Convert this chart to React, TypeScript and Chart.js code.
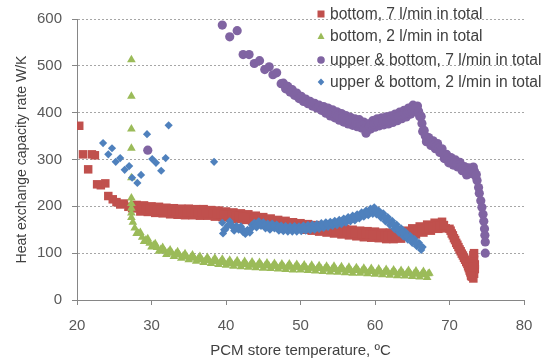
import React, { useEffect, useRef } from "react";
import { Chart, registerables } from "chart.js";

Chart.register(...registerables);

// ---- Data: bottom, 7 l/min in total ----
const RED_X = [20.3, 20.8, 21.5, 22.0, 22.4, 22.7, 23.2, 23.8, 24.2, 24.8, 25.3, 25.8, 26.3, 26.9, 27.4, 27.9,
  28.0, 28.5, 29.0, 29.5, 30.0, 30.5, 31.0, 31.5, 32.0, 32.5, 33.0, 33.5, 34.0, 34.5, 35.0, 35.5, 36.0, 36.5, 37.0, 37.5,
  38.0, 38.5, 39.0, 39.5, 40.0, 40.5, 41.0, 41.5, 42.0, 42.5, 43.0, 43.5, 44.0, 44.5, 45.0, 45.5, 46.0, 46.5, 47.0, 47.5,
  48.0, 48.5, 49.0, 49.5, 50.0, 50.5, 51.0, 51.5, 52.0, 52.5, 53.0, 53.5, 54.0, 54.5, 55.0, 55.5, 56.0, 56.5, 57.0, 57.5,
  58.0, 58.5, 59.0, 59.5, 60.0, 60.5, 61.0, 61.5, 62.0, 62.5, 63.0, 63.5, 64.0, 64.5, 65.0, 65.5, 66.0, 66.5, 67.0, 67.5,
  68.0, 68.5, 69.0, 69.5, 70.0, 70.3, 70.6, 70.9, 71.2, 71.5, 71.8, 72.1, 72.4, 72.6, 72.8, 73.0, 73.2, 73.3, 73.4, 73.4,
  73.3, 73.2, 72.9];
const RED_Y = [372, 311, 279, 311, 309, 247, 245, 249, 222, 215, 209, 204, 206, 199, 196, 198,
  203, 189, 202, 188, 200, 186, 199, 185, 197, 183, 196, 182, 195, 181, 195, 181, 194, 180, 194, 180,
  192, 178, 191, 177, 189, 175, 187, 173, 185, 171, 183, 169, 180, 166, 177, 163, 174, 160, 171, 157,
  169, 155, 166, 152, 164, 150, 162, 148, 160, 146, 158, 144, 156, 142, 154, 140, 152, 138, 150, 136,
  148, 134, 147, 133, 146, 132, 144, 130, 144, 130, 145, 131, 148, 135, 153, 140, 157, 144, 161, 148,
  165, 152, 167, 153, 152, 142, 132, 122, 113, 104, 95, 86, 77, 68, 59, 50, 46, 56, 66, 76,
  86, 96, 52];
const RED_FILL_X = [28.25, 28.75, 29.25, 29.75, 30.25, 30.75, 31.25, 31.75, 32.25, 32.75, 33.25, 33.75, 34.25, 34.75,
  35.25, 35.75, 36.25, 36.75, 37.25, 37.75, 38.25, 38.75, 39.25, 39.75, 40.25, 40.75, 41.25, 41.75, 42.25, 42.75,
  43.25, 43.75, 44.25, 44.75, 45.25, 45.75, 46.25, 46.75, 47.25, 47.75, 48.25, 48.75, 49.25, 49.75, 50.25, 50.75,
  51.25, 51.75, 52.25, 52.75, 53.25, 53.75, 54.25, 54.75, 55.25, 55.75, 56.25, 56.75, 57.25, 57.75, 58.25, 58.75,
  59.25, 59.75, 60.25, 60.75, 61.25, 61.75, 62.25, 62.75, 63.25, 63.75, 64.25, 64.75, 65.25, 65.75, 66.25, 66.75,
  67.25, 67.75, 68.25, 68.75, 69.25, 70.15, 70.45, 70.75, 71.05, 71.35, 71.65, 71.95, 72.25, 72.5, 72.7, 72.9, 73.1, 73.3];
const RED_FILL_Y = [196, 195, 195, 194, 193, 192, 192, 191, 190, 190, 189, 189, 188, 188,
  188, 187, 187, 187, 187, 186, 185, 184, 184, 183, 182, 181, 180, 179, 178, 177,
  176, 174, 173, 172, 170, 169, 167, 166, 164, 163, 162, 161, 159, 158, 157, 156,
  155, 154, 153, 152, 151, 150, 149, 148, 147, 146, 145, 144, 143, 142, 141, 141,
  140, 140, 139, 138, 137, 137, 137, 137, 138, 139, 141, 144, 146, 148, 150, 152,
  154, 156, 158, 159, 160, 148, 138, 128, 118, 108, 99, 90, 81, 72, 63, 55, 70, 100];

// ---- Data: bottom, 2 l/min in total ----
const GREEN_X = [27.3, 27.3, 27.3, 27.3, 27.3, 27.3, 27.3, 27.3, 27.3, 27.3,
  27.5, 28.0, 28.5, 29.0, 29.5, 30.0, 30.5, 31.0, 31.5, 32.0, 32.5, 33.0, 33.5, 34.0, 34.5, 35.0, 35.5, 36.0, 36.5, 37.0,
  37.5, 38.0, 38.5, 39.0, 39.5, 40.0, 40.5, 41.0, 41.5, 42.0, 42.5, 43.0, 43.5, 44.0, 44.5, 45.0, 45.5, 46.0, 46.5, 47.0,
  47.5, 48.0, 48.5, 49.0, 49.5, 50.0, 50.5, 51.0, 51.5, 52.0, 52.5, 53.0, 53.5, 54.0, 54.5, 55.0, 55.5, 56.0, 56.5, 57.0,
  57.5, 58.0, 58.5, 59.0, 59.5, 60.0, 60.5, 61.0, 61.5, 62.0, 62.5, 63.0, 63.5, 64.0, 64.5, 65.0, 65.5, 66.0, 66.5, 67.0, 67.3];
const GREEN_Y = [513, 435, 365, 324, 261, 218, 206, 196, 186, 176,
  166, 142, 144, 125, 131, 113, 120, 104, 112, 97, 107, 93, 103, 89, 99, 86, 96, 83, 93, 80,
  91, 78, 89, 76, 87, 74, 85, 72, 84, 71, 82, 70, 81, 69, 80, 68, 79, 67, 78, 66,
  77, 65, 77, 64, 76, 64, 75, 63, 74, 62, 73, 61, 72, 60, 72, 59, 71, 58, 70, 57,
  69, 57, 68, 56, 67, 55, 66, 54, 65, 53, 64, 52, 63, 51, 63, 50, 62, 49, 61, 48, 57];
const GREEN_FILL_X = [27.75, 28.25, 28.75, 29.25, 29.75, 30.25, 30.75, 31.25, 31.75, 32.25, 32.75, 33.25, 33.75,
  34.25, 34.75, 35.25, 35.75, 36.25, 36.75, 37.25, 37.75, 38.25, 38.75, 39.25, 39.75, 40.25, 40.75, 41.25, 41.75,
  42.25, 42.75, 43.25, 43.75, 44.25, 44.75, 45.25, 45.75, 46.25, 46.75, 47.25, 47.75, 48.25, 48.75, 49.25, 49.75,
  50.25, 50.75, 51.25, 51.75, 52.25, 52.75, 53.25, 53.75, 54.25, 54.75, 55.25, 55.75, 56.25, 56.75, 57.25, 57.75,
  58.25, 58.75, 59.25, 59.75, 60.25, 60.75, 61.25, 61.75, 62.25, 62.75, 63.25, 63.75, 64.25, 64.75, 65.25, 65.75,
  66.25, 66.75, 67.15];
const GREEN_FILL_Y = [154, 142, 134, 128, 121, 117, 112, 108, 105, 102, 100, 98, 96,
  94, 92, 91, 89, 88, 86, 85, 84, 83, 82, 81, 80, 79, 78, 78, 77,
  76, 76, 75, 75, 74, 74, 73, 73, 72, 72, 71, 71, 71, 70, 70, 70,
  69, 69, 68, 68, 67, 67, 66, 66, 66, 65, 65, 64, 64, 63, 63, 63,
  62, 62, 61, 61, 60, 60, 59, 59, 58, 58, 57, 57, 57, 56, 56, 55,
  55, 54, 56];

// ---- Data: upper & bottom, 7 l/min in total ----
const PURPLE_X = [29.5, 39.5, 40.5, 41.5, 42.3, 43.1, 43.8, 44.5, 45.2, 45.8, 46.3, 46.8, 47.4,
  47.7, 48.0, 48.3, 48.6, 48.9, 49.2, 49.5, 49.8, 50.1, 50.4, 50.7, 51.0, 51.3, 51.6, 51.9, 52.2, 52.5, 52.8,
  53.1, 53.4, 53.7, 54.0, 54.3, 54.6, 54.9, 55.2, 55.5, 55.8, 56.1, 56.4, 56.7, 57.0, 57.3, 57.6, 57.9, 58.2,
  58.5, 58.8, 59.1, 59.4, 59.7, 60.0, 60.3, 60.6, 60.9, 61.2, 61.5, 61.8, 62.1, 62.4, 62.7, 63.0, 63.3, 63.6,
  63.9, 64.2, 64.5, 64.8, 65.1, 65.4, 65.7, 66.0, 66.2, 66.4, 66.6, 66.9, 67.2, 67.5, 67.8, 68.1, 68.4, 68.7,
  69.0, 69.3, 69.6, 69.9, 70.2, 70.5, 70.8, 71.1, 71.4, 71.7, 72.0, 72.3, 72.6, 72.9, 73.2, 73.5,
  73.7, 73.9, 74.0, 74.2, 74.35, 74.5, 74.6, 74.7, 74.75, 74.8, 74.8];
const PURPLE_Y = [320, 587, 562, 575, 524, 524, 505, 511, 492, 498, 481, 485, 462,
  463, 451, 456, 444, 449, 437, 442, 430, 435, 424, 429, 419, 424, 414, 420, 410, 416, 405,
  413, 399, 410, 393, 406, 389, 402, 384, 398, 380, 394, 376, 390, 373, 387, 370, 385, 367,
  380, 356, 376, 365, 383, 369, 387, 372, 389, 374, 391, 376, 393, 379, 397, 383, 401, 387,
  405, 391, 410, 397, 416, 402, 414, 392, 392, 360, 362, 338, 347, 330, 340, 323, 334, 315,
  323, 302, 311, 293, 304, 288, 299, 284, 294, 276, 285, 267, 282, 270, 284, 265,
  255, 240, 228, 212, 198, 183, 168, 152, 138, 124, 100];
const PURPLE_FILL_X = [53.25, 53.55, 53.85, 54.15, 54.45, 54.75, 55.05, 55.35, 55.65, 55.95, 56.25, 56.55, 56.85,
  57.15, 57.45, 57.75, 58.05, 58.35, 58.65, 58.95, 59.25, 59.55, 59.85, 60.15, 60.45, 60.75, 61.05, 61.35, 61.65,
  61.95, 62.25, 62.55, 62.85, 63.15, 63.45, 63.75, 64.05, 64.35, 64.65, 64.95, 65.25, 65.55, 65.85, 66.1, 66.3,
  66.5, 66.75, 67.05, 67.35, 67.65, 67.95, 68.25, 68.55, 68.85, 69.15, 69.45, 69.75, 70.05, 70.35, 70.65, 70.95,
  71.25, 71.55, 71.85, 72.15, 72.45, 72.75, 73.05, 73.35, 73.6];
const PURPLE_FILL_Y = [406, 404, 402, 400, 398, 396, 393, 391, 389, 387, 385, 383, 381,
  380, 378, 377, 376, 373, 366, 364, 370, 374, 376, 378, 379, 380, 381, 382, 383,
  384, 386, 388, 390, 392, 394, 396, 398, 400, 403, 406, 409, 410, 403, 392, 377,
  362, 350, 343, 338, 335, 332, 328, 324, 319, 313, 307, 302, 298, 296, 293, 291,
  288, 285, 280, 276, 274, 276, 277, 275, 268];

// ---- Data: upper & bottom, 2 l/min in total ----
const BLUE_X = [23.5, 24.2, 24.7, 25.2, 25.8, 26.4, 27.0, 27.4, 28.1, 28.6, 29.4, 30.1, 30.6, 31.3, 31.9, 32.3, 38.4,
  39.5, 39.6, 39.9, 40.2, 40.5, 40.8, 41.1, 41.4, 41.7, 42.0, 42.3, 42.6, 42.9, 43.2, 43.5, 43.8, 44.1, 44.4, 44.7, 45.0,
  45.3, 45.6, 45.9, 46.2, 46.5, 46.8, 47.1, 47.4, 47.7, 48.0, 48.3, 48.6, 48.9, 49.2, 49.5, 49.8, 50.1, 50.4, 50.7, 51.0,
  51.3, 51.6, 51.9, 52.2, 52.5, 52.8, 53.1, 53.4, 53.7, 54.0, 54.3, 54.6, 54.9, 55.2, 55.5, 55.8, 56.1, 56.4, 56.7, 57.0,
  57.3, 57.6, 57.9, 58.2, 58.5, 58.8, 59.1, 59.4, 59.7, 59.9, 60.2, 60.5, 60.8, 61.1, 61.4, 61.7, 62.0, 62.3, 62.6, 62.9,
  63.2, 63.5, 63.8, 64.1, 64.4, 64.7, 65.0, 65.3, 65.6, 65.9, 66.2, 66.4];
const BLUE_Y = [335, 311, 324, 295, 303, 278, 286, 261, 250, 267, 354, 301, 293, 276, 303, 373, 295,
  165, 142, 150, 158, 168, 160, 148, 158, 150, 157, 145, 141, 150, 144, 160, 165, 155, 168, 158, 166,
  153, 163, 150, 163, 153, 161, 148, 159, 147, 158, 146, 157, 146, 158, 146, 157, 147, 159, 148, 160,
  149, 161, 150, 162, 152, 164, 154, 166, 156, 167, 158, 169, 160, 171, 162, 174, 165, 177, 168, 180,
  170, 183, 174, 187, 178, 191, 181, 195, 184, 198, 183, 191, 176, 185, 168, 177, 160, 169, 152, 161,
  144, 153, 136, 145, 129, 137, 122, 130, 115, 122, 107, 113];
const BLUE_FILL_X = [39.75, 40.35, 40.95, 41.55, 42.15, 42.75, 43.35, 43.95, 44.55, 45.15, 45.75, 46.35, 46.95,
  47.55, 48.15, 48.75, 49.35, 49.95, 50.55, 51.15, 51.75, 52.35, 52.95, 53.55, 54.15, 54.75, 55.35, 55.95, 56.55,
  57.15, 57.75, 58.35, 58.95, 59.55, 60.05, 60.65, 61.25, 61.85, 62.45, 63.05, 63.65, 64.25, 64.85, 65.45, 66.05];
const BLUE_FILL_Y = [150, 160, 155, 155, 152, 147, 152, 159, 162, 160, 157, 158, 155,
  153, 152, 152, 152, 152, 154, 155, 156, 157, 159, 161, 163, 165, 167, 170, 173,
  176, 179, 183, 187, 190, 191, 184, 177, 169, 161, 153, 145, 137, 130, 123, 115];

const SERIES_NAMES = [
  "bottom, 7 l/min in total",
  "bottom, 2 l/min in total",
  "upper & bottom, 7 l/min in total",
  "upper & bottom, 2 l/min in total",
];
const COLORS = ["#C0504D", "#9BBB59", "#8064A2", "#4F81BD"];
const X_TICKS = [20, 30, 40, 50, 60, 70, 80];
const Y_TICKS = [0, 100, 200, 300, 400, 500, 600];

const pts = (xs: number[], ys: number[]) => xs.map((x, i) => ({ x, y: ys[i] }));

const FONT = "'Liberation Sans', Arial, sans-serif";

function LegendMarker({ kind, color }: { kind: number; color: string }) {
  let shape: React.ReactNode = null;
  if (kind === 0) shape = <rect x={1.5} y={1.5} width={7} height={7} fill={color} />;
  else if (kind === 1) shape = <polygon points="5,1.5 8.5,8 1.5,8" fill={color} />;
  else if (kind === 2) shape = <circle cx={5} cy={5} r={3.8} fill={color} />;
  else shape = <polygon points="5,1.5 8.3,5 5,8.5 1.7,5" fill={color} />;
  return (
    <svg width={10} height={10} style={{ display: "block" }}>
      {shape}
    </svg>
  );
}

export default function App() {
  const ref = useRef<HTMLCanvasElement | null>(null);

  useEffect(() => {
    document.body.style.margin = "0";
    const canvas = ref.current;
    if (!canvas) return;
    const chart = new Chart(canvas, {
      type: "scatter",
      data: {
        datasets: [
          {
            label: SERIES_NAMES[0],
            data: [...pts(RED_X, RED_Y), ...pts(RED_FILL_X, RED_FILL_Y)],
            pointStyle: "rect",
            pointRadius: 6,
            backgroundColor: COLORS[0],
            borderColor: COLORS[0],
            borderWidth: 0,
            order: 3,
          },
          {
            label: SERIES_NAMES[1],
            data: [...pts(GREEN_X, GREEN_Y), ...pts(GREEN_FILL_X, GREEN_FILL_Y)],
            pointStyle: "triangle",
            pointRadius: 5,
            backgroundColor: COLORS[1],
            borderColor: COLORS[1],
            borderWidth: 0,
            order: 2,
          },
          {
            label: SERIES_NAMES[2],
            data: [...pts(PURPLE_X, PURPLE_Y), ...pts(PURPLE_FILL_X, PURPLE_FILL_Y)],
            pointStyle: "circle",
            pointRadius: 4.6,
            backgroundColor: COLORS[2],
            borderColor: COLORS[2],
            borderWidth: 0,
            order: 1,
          },
          {
            label: SERIES_NAMES[3],
            data: [...pts(BLUE_X, BLUE_Y), ...pts(BLUE_FILL_X, BLUE_FILL_Y)],
            pointStyle: "rectRot",
            pointRadius: 4.1,
            backgroundColor: COLORS[3],
            borderColor: COLORS[3],
            borderWidth: 0,
            order: 0,
          },
        ],
      },
      options: {
        animation: false,
        responsive: false,
        maintainAspectRatio: false,
        devicePixelRatio: 1,
        layout: { padding: { left: 0, top: 17, right: 23, bottom: 0 } },
        plugins: { legend: { display: false }, tooltip: { enabled: false } },
        scales: {
          x: {
            type: "linear",
            min: 20,
            max: 80,
            afterBuildTicks: (s: any) => {
              s.ticks = X_TICKS.map((v) => ({ value: v }));
            },
            afterFit: (s: any) => {
              s.height = 63;
            },
            ticks: { color: "#595959", font: { family: FONT, size: 15 }, padding: 12 },
            grid: { drawOnChartArea: false, drawTicks: true, tickLength: 5, tickColor: "#868686" },
            border: { color: "#868686", width: 1 },
            title: {
              display: true,
              text: "PCM store temperature, ºC",
              color: "#404040",
              font: { family: FONT, size: 15 },
              padding: { top: 0, bottom: 3 },
            },
          },
          y: {
            type: "linear",
            min: 0,
            max: 600,
            afterBuildTicks: (s: any) => {
              s.ticks = Y_TICKS.map((v) => ({ value: v }));
            },
            afterFit: (s: any) => {
              s.width = 77;
            },
            ticks: { color: "#595959", font: { family: FONT, size: 15 }, padding: 10 },
            grid: { color: "#a6a6a6", lineWidth: 1, drawTicks: true, tickLength: 5, tickColor: "#868686", tickBorderDash: [] },
            border: { color: "#868686", width: 1, dash: [2, 2] },
            title: {
              display: true,
              text: "Heat exchange capacity rate W/K",
              color: "#404040",
              font: { family: FONT, size: 14 },
              padding: { top: 14, bottom: 0 },
            },
          },
        },
      },
    });
    return () => chart.destroy();
  }, []);

  const rows = [13.5, 35.5, 60, 81.5];

  return (
    <div style={{ position: "relative", width: 547, height: 363, background: "#fff" }}>
      <canvas ref={ref} width={547} height={363} style={{ display: "block", width: 547, height: 363 }} />
      {SERIES_NAMES.map((name, i) => (
        <div key={name}>
          <div style={{ position: "absolute", left: 316, top: rows[i] - 5 }}>
            <LegendMarker kind={i} color={COLORS[i]} />
          </div>
          <div
            style={{
              position: "absolute",
              left: 330,
              top: rows[i] - 9,
              height: 18,
              lineHeight: "18px",
              fontFamily: FONT,
              fontSize: 15.6,
              color: "#404040",
              whiteSpace: "nowrap",
            }}
          >
            {name}
          </div>
        </div>
      ))}
    </div>
  );
}
